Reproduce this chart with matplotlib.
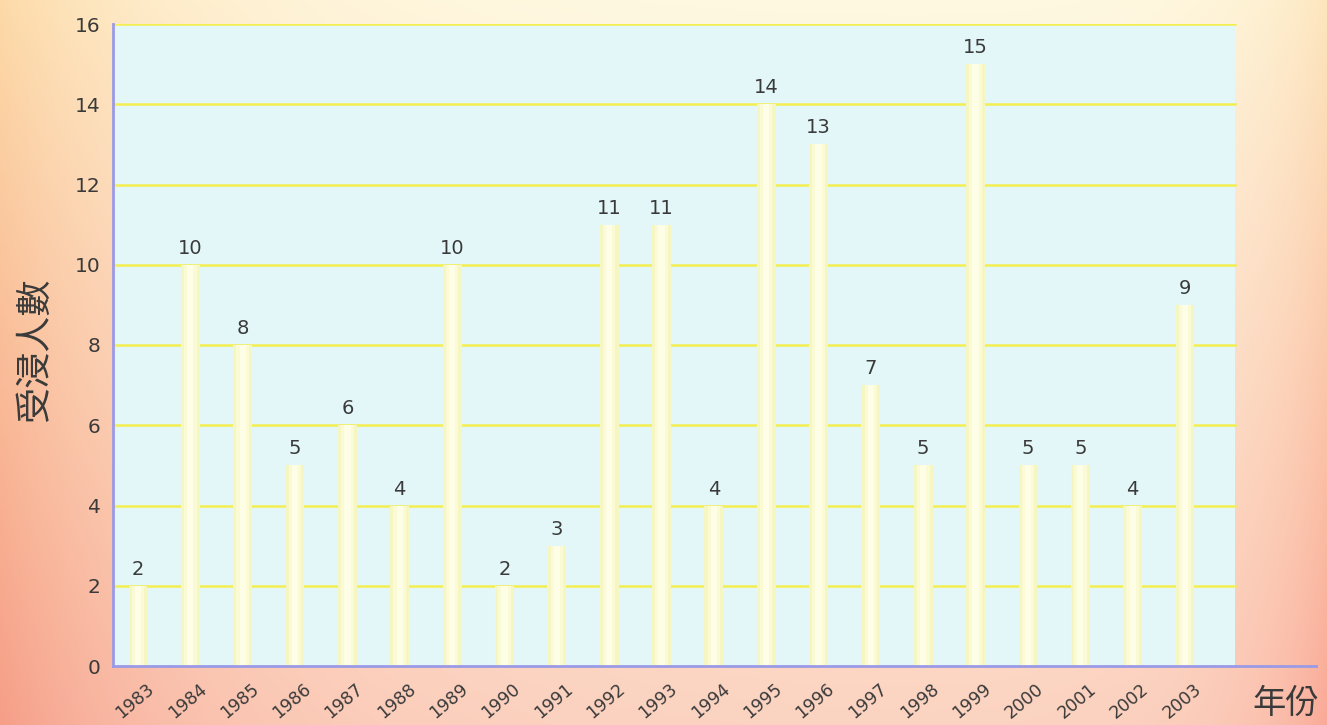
import numpy as np
import matplotlib
matplotlib.use("Agg")
import matplotlib.pyplot as plt
import matplotlib.transforms as mtransforms
from matplotlib.patches import Rectangle

years = ["1983", "1984", "1985", "1986", "1987", "1988", "1989", "1990", "1991", "1992",
         "1993", "1994", "1995", "1996", "1997", "1998", "1999", "2000", "2001", "2002", "2003"]
counts = [2, 10, 8, 5, 6, 4, 10, 2, 3, 11, 11, 4, 14, 13, 7, 5, 15, 5, 5, 4, 9]
y_ticks = [0, 2, 4, 6, 8, 10, 12, 14, 16]
y_label = "受浸人數"
x_label = "年份"

W, H = 1327, 725
fig = plt.figure(figsize=(W / 100, H / 100), dpi=100)

# background gradient
xs = np.linspace(0, 1, 400)[None, :]
ys = np.linspace(0, 1, 220)[:, None]
top_c = np.array([255, 249, 226]) / 255
bot_c = np.array([252, 212, 194]) / 255
left_top = np.array([253, 218, 168]) / 255
left_bot = np.array([246, 158, 136]) / 255
right_top = np.array([253, 230, 190]) / 255
right_bot = np.array([250, 170, 152]) / 255
yy = ys[..., None]
center = top_c * (1 - yy) + bot_c * yy
left = left_top * (1 - yy) + left_bot * yy
right = right_top * (1 - yy) + right_bot * yy
wl = np.exp(-xs / 0.14)[..., None]
wr = np.exp(-(1 - xs) / 0.06)[..., None]
img = center * (1 - wl) + left * wl
img = img * (1 - wr) + right * wr
bg = fig.add_axes([0, 0, 1, 1])
bg.imshow(np.clip(img, 0, 1), aspect="auto", extent=[0, 1, 0, 1], interpolation="bilinear")
bg.set_axis_off()

left_px, right_px, top_px, bot_px = 113, 1316, 24, 666
ax = fig.add_axes([left_px / W, 1 - bot_px / H, (right_px - left_px) / W, (bot_px - top_px) / H])
ax.set_facecolor("none")
x = np.arange(len(years))
step = 52.35
x0 = (left_px - 138) / step
x1 = (right_px - 138) / step
xplot_end = (1235 - 138) / step
ax.set_xlim(x0, x1)
ax.set_ylim(0, 16)

ax.add_patch(Rectangle((x0, 0), xplot_end - x0, 16, facecolor="#e3f7f9", edgecolor="none", zorder=0))
frac = (xplot_end - x0) / (x1 - x0)
for t in y_ticks[1:]:
    ax.axhline(t, xmin=0, xmax=frac, color="#f4ee50", lw=1.8, zorder=1)

ax.bar(x, counts, width=0.36, color="#f5f6c2", edgecolor="none", zorder=2)
ax.bar(x, counts, width=0.24, color="#fafad4", edgecolor="none", zorder=2)
ax.bar(x, counts, width=0.12, color="#fefde6", edgecolor="none", zorder=2)

for xi, v in zip(x, counts):
    ax.annotate(str(v), (xi, v), xytext=(0, 5), textcoords="offset points",
                ha="center", va="bottom", fontsize=14, color="#3a3a3a",
                family="DejaVu Sans")

for s in ["top", "right"]:
    ax.spines[s].set_visible(False)
for s in ["left", "bottom"]:
    ax.spines[s].set_color("#9a9ae6")
    ax.spines[s].set_linewidth(2)
    ax.spines[s].set_zorder(3)

ax.set_yticks(y_ticks)
ax.set_yticklabels([str(t) for t in y_ticks], fontsize=14.5, color="#3a3a3a", family="DejaVu Sans")
ax.tick_params(axis="y", length=0, pad=9)
ax.set_xticks(x)
ax.set_xticklabels(years, rotation=40, ha="right", va="top", rotation_mode="anchor",
                   fontsize=12.5, color="#3a3a3a", family="DejaVu Sans")
ax.tick_params(axis="x", length=0, pad=10)
offset = mtransforms.ScaledTranslation(8 / 100, 0, fig.dpi_scale_trans)
for lbl in ax.get_xticklabels():
    lbl.set_transform(lbl.get_transform() + offset)

fig.text(35 / W, 1 - 350 / H, y_label, rotation=90, ha="center", va="center",
         fontsize=26, color="#3a3a3a", family=["Noto Sans CJK TC", "DejaVu Sans"])
fig.text(1286 / W, 1 - 703 / H, x_label, ha="center", va="center",
         fontsize=24, color="#3a3a3a", family=["Noto Sans CJK TC", "DejaVu Sans"])

fig.savefig("out.png", dpi=100)
